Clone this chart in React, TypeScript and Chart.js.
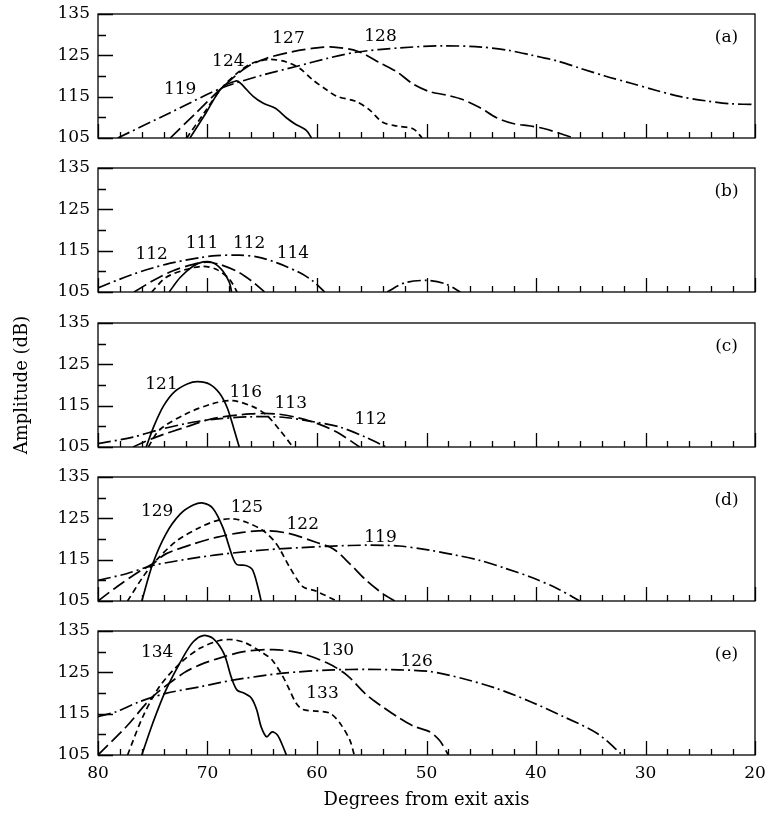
import { useEffect, useRef } from 'react';
import { Chart, registerables } from 'chart.js';

Chart.register(...registerables);

type Pt = [number, number | null];
type Note = [string, number, number];

// Axis ticks
const X_TICKS = [80, 70, 60, 50, 40, 30, 20];
const Y_TICKS = [105, 115, 125, 135];

// Panel (a): [degrees from exit axis, amplitude dB]
const A_SOLID: Pt[] = [[71.6, 105], [70.2, 110.8], [68.7, 117.1], [67.4, 118.8], [67.0, 118.3], [65.8, 115.0], [64.9, 113.4], [63.8, 112.2], [62.8, 109.9], [62.0, 108.4], [61.0, 106.9], [60.5, 105]];
const A_SHORT: Pt[] = [[71.9, 105], [70.3, 111.1], [68.7, 117.1], [67.1, 121.1], [65.8, 123.2], [64.3, 124.0], [62.8, 123.4], [61.6, 121.9], [60.4, 119.1], [59.1, 116.6], [58.2, 115.1], [56.4, 113.8], [55.2, 111.8], [54.0, 108.8], [52.7, 107.9], [51.2, 107.2], [50.4, 105]];
const A_LONG: Pt[] = [[73.4, 105], [71.0, 111.2], [68.7, 117.1], [66.5, 122.0], [64.6, 124.3], [62.2, 125.9], [60.0, 126.8], [58.5, 127.0], [56.3, 126.0], [54.2, 123.1], [52.7, 121.0], [51.2, 118.0], [49.7, 116.2], [48.2, 115.4], [46.7, 114.3], [45.1, 112.3], [43.6, 109.9], [42.1, 108.5], [40.5, 107.9], [39.3, 107.3], [37.8, 106.1], [36.6, 105]];
const A_DASHDOT: Pt[] = [[78.2, 105], [73.5, 111.0], [68.7, 117.1], [65.0, 120.2], [61.9, 122.3], [59.0, 124.3], [56.3, 125.8], [52.5, 126.8], [48.5, 127.3], [45.0, 127.0], [42.5, 126.2], [40.5, 125.1], [38.0, 123.6], [36.0, 121.9], [33.7, 120.0], [31.4, 118.3], [29.0, 116.5], [26.8, 115.0], [24.5, 114.0], [22.3, 113.3], [20, 113.1]];
const A_LABELS: Note[] = [['119', 72.5, 116.6], ['124', 68.1, 123.4], ['127', 62.6, 129.0], ['128', 54.2, 129.5]];

// Panel (b)
const B_SOLID: Pt[] = [[73.5, 105], [72.5, 108.5], [71.3, 111.3], [70.4, 112.3], [69.5, 112.1], [68.6, 110.1], [68.0, 107.3], [67.8, 105]];
const B_SHORT: Pt[] = [[75.1, 105], [73.8, 108.5], [71.9, 110.5], [70.4, 111.2], [69.2, 110.5], [68.0, 108.1], [67.3, 105]];
const B_LONG: Pt[] = [[76.7, 105], [75.0, 107.7], [73.2, 110.1], [71.3, 111.7], [70.1, 112.2], [68.9, 111.7], [67.1, 109.7], [65.8, 107.3], [64.8, 105]];
const B_DASHDOT: Pt[] = [[80, 106.0], [76.8, 109.3], [73.8, 111.7], [70.7, 113.3], [69.2, 113.8], [67.1, 113.9], [65.5, 113.5], [63.7, 112.1], [61.6, 109.7], [60.4, 107.7], [59.3, 105], [56, null], [53.6, 105], [52.0, 107.2], [50.0, 107.8], [48.3, 107.0], [46.9, 105]];
const B_LABELS: Note[] = [['112', 75.1, 114.1], ['111', 70.5, 116.7], ['112', 66.2, 116.7], ['114', 62.2, 114.3]];

// Panel (c)
const C_SOLID: Pt[] = [[75.6, 105], [74.9, 110.0], [74.0, 115.0], [73.0, 118.4], [71.8, 120.3], [70.9, 120.8], [69.8, 120.2], [68.9, 118.0], [68.2, 114.5], [67.6, 109.5], [67.1, 105]];
const C_SHORT: Pt[] = [[75.4, 105], [74.4, 109.1], [71.9, 113.1], [69.5, 115.5], [67.7, 116.2], [65.8, 114.7], [64.6, 112.7], [63.4, 109.1], [62.2, 105]];
const C_LONG: Pt[] = [[76.8, 105], [74.7, 107.4], [71.9, 109.9], [69.5, 111.9], [66.1, 113.0], [63.7, 113.0], [61.6, 112.0], [59.6, 110.3], [58.0, 108.3], [56.1, 105]];
const C_DASHDOT: Pt[] = [[80, 105.8], [76.8, 107.4], [74.4, 109.2], [71.9, 110.7], [69.5, 111.7], [66.1, 112.3], [63.1, 112.2], [60.1, 111.0], [58.0, 109.9], [55.5, 107.3], [53.7, 105]];
const C_LABELS: Note[] = [['121', 74.2, 120.2], ['116', 66.5, 118.1], ['113', 62.4, 115.4], ['112', 55.1, 111.7]];

// Panel (d)
const D_SOLID: Pt[] = [[76.0, 105], [75.0, 114.0], [73.8, 121.2], [72.5, 126.0], [71.3, 128.2], [70.4, 128.7], [69.5, 127.4], [68.6, 122.8], [67.7, 115.6], [67.3, 113.8], [66.5, 113.6], [65.9, 112.6], [65.4, 108.4], [65.1, 105]];
const D_SHORT: Pt[] = [[77.3, 105], [75.9, 110.8], [74.7, 114.8], [72.8, 119.6], [70.7, 122.8], [69.2, 124.4], [67.7, 124.9], [66.5, 124.1], [64.9, 122.0], [63.7, 118.8], [62.5, 113.2], [61.3, 108.5], [60.1, 107.4], [58.2, 105]];
const D_LONG: Pt[] = [[80, 105], [78.3, 108.4], [76.2, 112.2], [75.0, 114.0], [73.8, 116.4], [71.3, 118.8], [69.2, 120.4], [66.8, 121.6], [64.6, 122.0], [62.5, 121.3], [60.1, 119.2], [58.5, 117.6], [57.0, 114.0], [55.5, 110.0], [54.0, 106.8], [52.9, 105]];
const D_DASHDOT: Pt[] = [[80, 110.0], [77.4, 111.6], [75.0, 113.6], [70.7, 115.6], [67.7, 116.6], [64.6, 117.4], [61.6, 117.9], [58.5, 118.3], [55.5, 118.5], [52.5, 118.3], [49.7, 117.3], [47.5, 116.2], [45.1, 114.8], [42.8, 112.9], [40.5, 110.8], [38.2, 108.2], [36.0, 105]];
const D_LABELS: Note[] = [['129', 74.6, 126.6], ['125', 66.4, 127.6], ['122', 61.3, 123.4], ['119', 54.2, 120.3]];

// Panel (e)
const E_SOLID: Pt[] = [[76.0, 105], [75.0, 112.7], [73.8, 120.7], [72.2, 128.8], [71.3, 132.4], [70.4, 133.9], [69.5, 133.2], [68.5, 129.5], [67.8, 123.6], [67.3, 120.7], [66.7, 120.0], [66.0, 118.8], [65.5, 115.9], [65.1, 111.8], [64.6, 109.4], [64.1, 110.6], [63.6, 109.8], [63.1, 107.0], [62.8, 105]];
const E_SHORT: Pt[] = [[77.3, 105], [75.9, 114.3], [74.4, 121.5], [72.5, 127.2], [70.7, 130.8], [68.9, 132.7], [67.7, 132.9], [66.5, 132.1], [64.9, 129.6], [64.1, 128.0], [63.1, 123.9], [62.5, 120.7], [61.9, 117.5], [61.3, 116.0], [60.0, 115.6], [58.8, 115.1], [57.9, 112.7], [57.0, 108.6], [56.6, 105]];
const E_LONG: Pt[] = [[80, 105], [77.4, 111.9], [75.0, 119.1], [72.2, 124.8], [70.7, 126.8], [69.2, 128.2], [66.7, 130.0], [64.0, 130.5], [61.6, 129.7], [59.1, 127.3], [57.3, 124.4], [55.5, 119.6], [54.2, 117.0], [52.7, 114.3], [51.2, 112.0], [49.7, 110.6], [48.8, 108.5], [48.0, 105]];
const E_DASHDOT: Pt[] = [[80, 114.3], [78.3, 115.5], [76.2, 117.9], [73.8, 119.9], [70.7, 121.5], [67.7, 123.1], [63.1, 124.8], [58.5, 125.6], [55.5, 125.7], [52.5, 125.6], [49.7, 125.2], [46.7, 123.5], [43.6, 121.1], [40.5, 117.9], [37.5, 114.3], [34.4, 110.2], [32.1, 105]];
const E_LABELS: Note[] = [['134', 74.6, 129.7], ['130', 58.1, 130.2], ['133', 59.5, 119.8], ['126', 50.9, 127.5]];

const PANEL_TAGS = ['(a)', '(b)', '(c)', '(d)', '(e)'];
const PANEL_SERIES: Pt[][][] = [
  [A_SOLID, A_SHORT, A_LONG, A_DASHDOT],
  [B_SOLID, B_SHORT, B_LONG, B_DASHDOT],
  [C_SOLID, C_SHORT, C_LONG, C_DASHDOT],
  [D_SOLID, D_SHORT, D_LONG, D_DASHDOT],
  [E_SOLID, E_SHORT, E_LONG, E_DASHDOT],
];
const PANEL_LABELS: Note[][] = [A_LABELS, B_LABELS, C_LABELS, D_LABELS, E_LABELS];
const TAG_POS: [number, number] = [22.6, 129.4];

// Page geometry and styling
const W = 767;
const H = 816;
const PANEL_TOPS = [14, 168, 323, 477, 631];
const PANEL_H = 124;
const FONT = '"DejaVu Serif", serif';
const FONT_SIZE = 17;
const TITLE_SIZE = 18;
const DASHES = [[], [6, 4], [14, 5], [13, 4, 2, 4]];

function framePlugin(labels: Note[], tag: string) {
  return {
    id: 'frameAndNotes',
    afterDatasetsDraw(chart: any) {
      const { ctx, chartArea } = chart;
      const { left, right, top, bottom } = chartArea;
      const xs = chart.scales.x;
      const ys = chart.scales.y;
      ctx.save();
      ctx.strokeStyle = '#000';
      ctx.lineWidth = 1.3;
      ctx.strokeRect(left, top, right - left, bottom - top);
      ctx.beginPath();
      for (let d = 20; d <= 80; d += 2) {
        const px = Math.round(xs.getPixelForValue(d)) + 0.5;
        const len = d % 10 === 0 ? 14 : 6;
        ctx.moveTo(px, bottom);
        ctx.lineTo(px, bottom - len);
      }
      for (let v = 105; v <= 135; v += 5) {
        const py = Math.round(ys.getPixelForValue(v)) + 0.5;
        const len = (v - 105) % 10 === 0 ? 15 : 8;
        ctx.moveTo(left, py);
        ctx.lineTo(left + len, py);
      }
      ctx.stroke();

      ctx.fillStyle = '#000';
      ctx.font = `${FONT_SIZE}px ${FONT}`;
      ctx.textAlign = 'center';
      ctx.textBaseline = 'middle';
      for (const [text, x, y] of labels) {
        ctx.fillText(text, xs.getPixelForValue(x), ys.getPixelForValue(y));
      }
      ctx.fillText(tag, xs.getPixelForValue(TAG_POS[0]), ys.getPixelForValue(TAG_POS[1]));
      ctx.restore();
    },
  };
}

function Panel({ index }: { index: number }) {
  const ref = useRef<HTMLCanvasElement | null>(null);

  useEffect(() => {
    const canvas = ref.current;
    if (!canvas) return;
    const isLast = index === PANEL_SERIES.length - 1;
    const top = PANEL_TOPS[index];
    const below = H - top - PANEL_H;
    const font = { family: FONT, size: FONT_SIZE };
    const titleFont = { family: FONT, size: TITLE_SIZE };

    const chart = new Chart(canvas, {
      type: 'line',
      data: {
        datasets: PANEL_SERIES[index].map((pts, k) => ({
          data: pts.map(([x, y]) => ({ x, y })),
          borderColor: '#000',
          borderWidth: 1.7,
          borderDash: DASHES[k],
          pointRadius: 0,
          tension: 0.3,
          fill: false,
          spanGaps: false,
        })),
      } as any,
      options: {
        responsive: false,
        animation: false,
        events: [],
        layout: {
          padding: { left: 8, right: 12, top, bottom: isLast ? 0 : below },
        },
        plugins: {
          legend: { display: false },
          tooltip: { enabled: false },
        },
        scales: {
          x: {
            type: 'linear',
            min: 20,
            max: 80,
            reverse: true,
            display: isLast,
            afterBuildTicks: (s: any) => {
              s.ticks = X_TICKS.map((value) => ({ value }));
            },
            afterFit: (s: any) => {
              s.paddingLeft = 0;
              s.paddingRight = 0;
              if (isLast) s.height = below;
            },
            grid: { display: false, drawTicks: false },
            border: { display: false },
            ticks: { color: '#000', font, padding: 8, maxRotation: 0, autoSkip: false },
            title: {
              display: true,
              text: 'Degrees from exit axis',
              color: '#000',
              font: titleFont,
              padding: { top: 4, bottom: 5 },
            },
          },
          y: {
            type: 'linear',
            min: 105,
            max: 135,
            afterBuildTicks: (s: any) => {
              s.ticks = Y_TICKS.map((value) => ({ value }));
            },
            afterFit: (s: any) => {
              s.width = 90;
              s.paddingTop = 0;
              s.paddingBottom = 0;
            },
            grid: { display: false, drawTicks: false },
            border: { display: false },
            ticks: { color: '#000', font, padding: 8 },
            title: {
              display: index === 2,
              text: 'Amplitude (dB)',
              color: '#000',
              font: titleFont,
              padding: { top: 4, bottom: 4 },
            },
          },
        },
      } as any,
      plugins: [framePlugin(PANEL_LABELS[index], PANEL_TAGS[index])],
    });

    return () => chart.destroy();
  }, [index]);

  return (
    <canvas
      ref={ref}
      width={W}
      height={H}
      style={{ position: 'absolute', left: 0, top: 0, width: W, height: H }}
    />
  );
}

export default function App() {
  return (
    <div style={{ position: 'absolute', left: 0, top: 0, width: W, height: H, background: '#fff' }}>
      {PANEL_SERIES.map((_, i) => (
        <Panel key={i} index={i} />
      ))}
    </div>
  );
}
